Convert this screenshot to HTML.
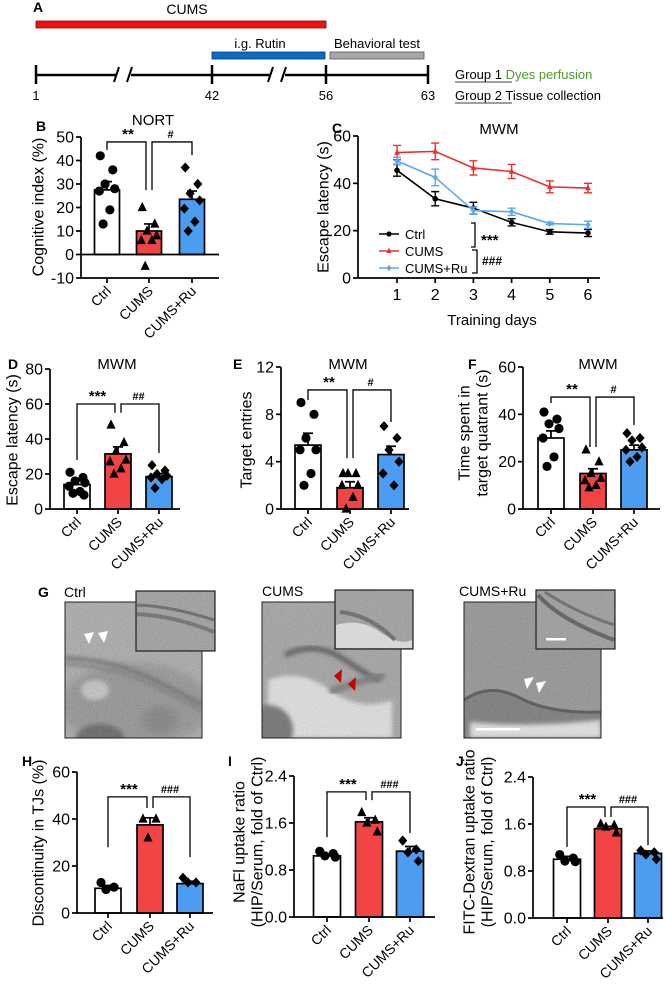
<!DOCTYPE html>
<html><head><meta charset="utf-8"><style>
html,body{margin:0;padding:0;background:#fff;}
svg{display:block;font-family:"Liberation Sans",Arial,sans-serif;}
</style></head><body>
<svg id="fig" width="665" height="991" viewBox="0 0 665 991" xmlns="http://www.w3.org/2000/svg">
<defs>
<filter id="noise" x="0" y="0" width="100%" height="100%"><feTurbulence type="fractalNoise" baseFrequency="0.7" numOctaves="2" seed="3" result="t"/><feColorMatrix in="t" type="matrix" values="0.33 0.33 0.33 0 0  0.33 0.33 0.33 0 0  0.33 0.33 0.33 0 0  0 0 0 0 1"/></filter>
<filter id="blur2"><feGaussianBlur stdDeviation="2"/></filter>
<filter id="blur4"><feGaussianBlur stdDeviation="4"/></filter>
</defs>
<g>
<text x="33" y="12" font-size="14" font-weight="bold">A</text>
<text x="187" y="14" font-size="14" text-anchor="middle">CUMS</text>
<rect x="36" y="21" width="290" height="7" fill="#f50f0f" stroke="#7a1010" stroke-width="0.8"/>
<text x="260" y="48" font-size="13" text-anchor="middle">i.g. Rutin</text>
<rect x="212" y="52" width="113" height="7" fill="#0a6cc4" stroke="#0a3a70" stroke-width="0.8"/>
<text x="377" y="48" font-size="13" text-anchor="middle">Behavioral test</text>
<rect x="330" y="52" width="94" height="7" fill="#a8a8a8" stroke="#555" stroke-width="0.8"/>
<g stroke="#000" stroke-width="2.5">
<line x1="36" y1="75" x2="116" y2="75"/><line x1="131" y1="75" x2="270" y2="75"/><line x1="285" y1="75" x2="428" y2="75"/>
<line x1="36" y1="65" x2="36" y2="84"/><line x1="212" y1="65" x2="212" y2="84"/><line x1="326" y1="65" x2="326" y2="84"/><line x1="428" y1="65" x2="428" y2="84"/>
<line x1="114" y1="82" x2="119" y2="67" stroke-width="2"/><line x1="127" y1="82" x2="132" y2="67" stroke-width="2"/>
<line x1="268" y1="82" x2="273" y2="67" stroke-width="2"/><line x1="281" y1="82" x2="286" y2="67" stroke-width="2"/>
</g>
<g font-size="13" text-anchor="middle">
<text x="36" y="100">1</text><text x="212" y="100">42</text><text x="326" y="100">56</text><text x="428" y="100">63</text>
</g>
<text x="455" y="79" font-size="13"><tspan>Group 1</tspan> <tspan fill="#4e9a2e">Dyes perfusion</tspan></text>
<line x1="455" y1="82" x2="512" y2="82" stroke="#000" stroke-width="0.8"/>
<text x="455" y="100" font-size="13"><tspan>Group 2</tspan> Tissue collection</text>
<line x1="455" y1="103" x2="512" y2="103" stroke="#000" stroke-width="0.8"/>
</g>

<g>
<text x="38" y="597" font-size="14" font-weight="bold">G</text>
<text x="64" y="597" font-size="14">Ctrl</text>
<text x="262" y="596" font-size="14">CUMS</text>
<text x="459" y="596" font-size="14">CUMS+Ru</text>
<g>
<clipPath id="c1"><rect x="65" y="602" width="137" height="136"/></clipPath>
<g clip-path="url(#c1)">
<rect x="65" y="602" width="137" height="136" fill="#a3a3a3"/>
<ellipse cx="135" cy="705" rx="75" ry="42" fill="#868686" filter="url(#blur4)"/>
<ellipse cx="100" cy="738" rx="24" ry="14" fill="#4a4a4a" filter="url(#blur2)"/>
<ellipse cx="95" cy="690" rx="14" ry="10" fill="#c4c4c4" filter="url(#blur2)"/>
<ellipse cx="160" cy="720" rx="18" ry="14" fill="#6e6e6e" filter="url(#blur4)"/>
<path d="M65 658 Q100 660 125 668 T202 705" fill="none" stroke="#505050" stroke-width="4" filter="url(#blur2)"/>
<path d="M65 664 Q100 666 125 674 T202 711" fill="none" stroke="#606060" stroke-width="3" filter="url(#blur2)"/>
<rect x="65" y="602" width="137" height="136" filter="url(#noise)" opacity="0.35"/>
</g>
<rect x="65" y="602" width="137" height="136" fill="none" stroke="#222" stroke-width="1"/>
<polygon points="84,634 94,632 89,644" fill="#fff"/><polygon points="98,633 108,631 104,643" fill="#fff"/>
<rect x="136" y="591" width="79" height="60" fill="#959595" stroke="#222" stroke-width="1.2"/>
<path d="M137 605 Q170 606 214 620" fill="none" stroke="#4a4a4a" stroke-width="3"/>
<path d="M137 614 Q175 616 214 632" fill="none" stroke="#555" stroke-width="4"/>
<rect x="137" y="592" width="77" height="58" filter="url(#noise)" opacity="0.35"/>
</g>
<g>
<clipPath id="c2"><rect x="262" y="602" width="139" height="136"/></clipPath>
<g clip-path="url(#c2)">
<rect x="262" y="602" width="139" height="136" fill="#9c9c9c"/>
<path d="M268 680 Q300 668 330 690 T392 700 L392 738 L268 738 Z" fill="#e6e6e6" filter="url(#blur2)"/>
<ellipse cx="268" cy="730" rx="25" ry="25" fill="#5e5e5e" filter="url(#blur2)"/>
<path d="M285 655 Q315 640 345 660 T380 680" fill="none" stroke="#3a3a3a" stroke-width="5" filter="url(#blur2)"/>
<path d="M330 692 Q355 682 385 675" fill="none" stroke="#666" stroke-width="7" filter="url(#blur2)"/>
<rect x="262" y="602" width="139" height="136" filter="url(#noise)" opacity="0.3"/>
</g>
<rect x="262" y="602" width="139" height="136" fill="none" stroke="#222" stroke-width="1"/>
<polygon points="334,676 342,669 341,683" fill="#c00"/><polygon points="348,684 356,677 355,691" fill="#c00"/>
<rect x="335" y="590" width="78" height="59" fill="#999" stroke="#222" stroke-width="1.2"/>
<path d="M336 625 Q360 618 380 632 T412 640 L412 648 L336 648 Z" fill="#e6e6e6"/>
<path d="M340 612 Q370 615 395 640" fill="none" stroke="#555" stroke-width="4"/>
<rect x="336" y="591" width="76" height="57" filter="url(#noise)" opacity="0.3"/>
</g>
<g>
<clipPath id="c3"><rect x="464" y="602" width="137" height="136"/></clipPath>
<g clip-path="url(#c3)">
<rect x="464" y="602" width="137" height="136" fill="#8a8a8a"/>
<path d="M464 700 Q490 680 520 698 T601 712 L601 738 L464 738 Z" fill="#6a6a6a"/>
<path d="M464 700 Q490 682 520 698 T601 712" fill="none" stroke="#3a3a3a" stroke-width="3"/>
<path d="M470 722 Q530 728 601 720 L601 738 L470 738 Z" fill="#e8e8e8" filter="url(#blur2)"/>
<rect x="464" y="602" width="137" height="136" filter="url(#noise)" opacity="0.3"/>
</g>
<rect x="464" y="602" width="137" height="136" fill="none" stroke="#222" stroke-width="1"/>
<rect x="476" y="728" width="44" height="2.5" fill="#fff"/>
<polygon points="524,679 534,677 527,689" fill="#fff"/><polygon points="536,683 546,681 539,693" fill="#fff"/>
<rect x="536" y="590" width="79" height="59" fill="#959595" stroke="#222" stroke-width="1.2"/>
<path d="M538 595 Q560 620 614 640" fill="none" stroke="#444" stroke-width="4"/>
<path d="M545 592 Q575 612 614 625" fill="none" stroke="#555" stroke-width="3"/>
<rect x="537" y="591" width="77" height="57" filter="url(#noise)" opacity="0.3"/>
<rect x="546" y="638" width="20" height="2.5" fill="#fff"/>
</g>
</g>
</svg>
<script>
// ---------- DATA ----------
const categories = ['Ctrl', 'CUMS', 'CUMS+Ru'];
const nortMeans = [27.5, 10, 23.5];
const nortErr = [3.5, 3, 3.5];
const nortPts = [[42, 36, 30, 28, 27, 19, 13], [20, 13, 10, 8, 6, 6, -5], [37, 30, 26, 23, 19.5, 14, 10]];
const nortTicks = [-10, 0, 10, 20, 30, 40, 50];
const days = [1, 2, 3, 4, 5, 6];
const ctrlLat = [45.5, 33.5, 29.5, 23.5, 19.5, 19];
const ctrlLatErr = [2.5, 3, 2.5, 1.5, 1, 1.5];
const cumsLat = [53, 53.5, 46.5, 45, 38.5, 38];
const cumsLatErr = [3, 3.5, 3, 3, 2.5, 2];
const ruLat = [49.5, 42.5, 28.5, 28, 23, 22.5];
const ruLatErr = [1.5, 3.5, 1.5, 1.5, 0.5, 1.5];
const latTicks = [0, 20, 40, 60];
const escMeans = [14, 31.5, 18.5];
const escErr = [2, 4, 1.8];
const escPts = [[21, 18, 16, 15, 13, 10, 9, 8], [48, 38, 33, 28, 27, 23, 20], [25, 22, 20, 19, 18, 17, 12]];
const escTicks = [0, 20, 40, 60, 80];
const entMeans = [5.4, 1.8, 4.6];
const entErr = [1, 0.5, 0.7];
const entPts = [[9, 8, 6, 5, 5, 3, 2], [3, 3, 3, 2, 2, 1, 0], [7, 6, 5, 4, 3, 2]];
const entTicks = [0, 4, 8, 12];
const timeMeans = [30, 15, 25];
const timeErr = [3, 2, 2];
const timePts = [[41, 38, 36, 34, 30, 22, 18], [25, 20, 15, 13, 12, 10, 9], [32, 30, 29, 26, 25, 22, 20]];
const timeTicks = [0, 20, 40, 60];
const tjMeans = [10.5, 37.5, 12.5];
const tjErr = [1.2, 3, 1];
const tjPts = [[13, 11, 10], [40, 40, 32], [15, 13, 13]];
const tjTicks = [0, 20, 40, 60];
const naflMeans = [1.04, 1.62, 1.12];
const naflErr = [0.03, 0.07, 0.08];
const naflPts = [[1.12, 1.08, 1.04, 1.02], [1.78, 1.65, 1.6, 1.45], [1.3, 1.15, 1.1, 0.95]];
const naflTicks = ['0.0', '0.8', '1.6', '2.4'];
const fitcMeans = [1.0, 1.52, 1.1];
const fitcErr = [0.05, 0.04, 0.04];
const fitcPts = [[1.08, 1.02, 0.97, 0.96], [1.6, 1.58, 1.55, 1.45], [1.15, 1.12, 1.08, 1.0]];
const fitcTicks = ['0.0', '0.8', '1.6', '2.4'];

// ---------- DRAW ----------
const NS = 'http://www.w3.org/2000/svg';
const svg = document.getElementById('fig');
function mk(tag, attrs, parent) {
  const e = document.createElementNS(NS, tag);
  for (const k in attrs) e.setAttribute(k, attrs[k]);
  (parent || svg).appendChild(e);
  return e;
}
const FILLS = ['#ffffff', '#f24444', '#4c9cf2'];
const JIT = [-7, 6, -2, 8, -8, 3, -4, 7];

function marker(g, kind, x, y, s, fill) {
  let m;
  if (kind === 0) m = mk('circle', {cx: x, cy: y, r: s, fill: fill}, g);
  else if (kind === 1) m = mk('polygon', {points: `${x},${y - s - 1} ${x + s},${y + s * 0.8} ${x - s},${y + s * 0.8}`, fill: fill}, g);
  else m = mk('polygon', {points: `${x},${y - s - 0.5} ${x + s},${y} ${x},${y + s + 0.5} ${x - s},${y}`, fill: fill}, g);
  return m;
}

function barPanel(p) {
  const g = mk('g', {});
  
  
  const tv = p.ticks.map(Number);
  const vmin = tv[0], vmax = tv[tv.length - 1];
  const ys = v => p.yBot - (v - vmin) / (vmax - vmin) * (p.yBot - p.yTop);
  p.means.forEach((m, i) => {
    const y0 = ys(Math.max(0, vmin)), y1 = ys(m);
    const bar = mk('rect', {x: p.cx[i] - p.bw / 2, y: Math.min(y0, y1), width: p.bw, height: Math.abs(y0 - y1), fill: FILLS[i], stroke: '#000', 'stroke-width': 1.7}, g);
    
    
    const eb = mk('path', {d: `M${p.cx[i]} ${y1} V${ys(m + p.err[i])} M${p.cx[i] - 5} ${ys(m + p.err[i])} H${p.cx[i] + 5}`, stroke: '#000', 'stroke-width': 1.7, fill: 'none'}, g);
    
    
    p.pts[i].forEach((v, j) => {
      const pt = marker(g, i, p.cx[i] + JIT[j % JIT.length] * p.bw / 26, ys(v), 4.6, '#000');
      
      
    });
  });
  const ax = mk('path', {d: `M${p.ax} ${p.yTop} V${p.yBot} H${p.xEnd}`, stroke: '#000', 'stroke-width': 1.7, fill: 'none'}, g);
  
  
  if (vmin < 0) {
    const zl = mk('line', {x1: p.ax, y1: ys(0), x2: p.xEnd, y2: ys(0), stroke: '#000', 'stroke-width': 1.7}, g);
    
    
  }
  p.ticks.forEach((t) => {
    const y = ys(Number(t));
    mk('line', {x1: p.ax - 5, y1: y, x2: p.ax, y2: y, stroke: '#000', 'stroke-width': 1.7}, g);
    const tl = mk('text', {x: p.ax - 7, y: y + 5.5, 'font-size': 16, 'text-anchor': 'end'}, g);
    tl.textContent = t;
    
    
  });
  categories.forEach((c, i) => {
    mk('line', {x1: p.cx[i], y1: p.yBot, x2: p.cx[i], y2: p.yBot + 5, stroke: '#000', 'stroke-width': 1.7}, g);
    const cl = mk('text', {x: p.cx[i] + 5, y: p.yBot + 14, 'font-size': 14, 'text-anchor': 'end', transform: `rotate(-45 ${p.cx[i] + 5} ${p.yBot + 14})`}, g);
    cl.textContent = c;
    
    
  });
  const s = p.sig, top = ys(s.top);
  const b1 = mk('path', {d: `M${p.cx[0]} ${ys(s.legs[0])} V${top} H${p.cx[1] - 3} V${ys(s.legs[1])}`, stroke: '#000', 'stroke-width': 1.3, fill: 'none'}, g);
  
  
  const b2 = mk('path', {d: `M${p.cx[1] + 3} ${ys(s.legs[1])} V${top} H${p.cx[2]} V${ys(s.legs[2])}`, stroke: '#000', 'stroke-width': 1.3, fill: 'none'}, g);
  
  
  const l1 = mk('text', {x: (p.cx[0] + p.cx[1]) / 2, y: top - 3, 'font-size': 15, 'font-weight': 'bold', 'text-anchor': 'middle'}, g);
  l1.textContent = s.l1;
  
  
  const l2 = mk('text', {x: (p.cx[1] + p.cx[2]) / 2, y: top - 4, 'font-size': 11, 'font-weight': 'bold', 'text-anchor': 'middle'}, g);
  l2.textContent = s.l2;
  
  
  const pl = mk('text', {x: p.lab[0], y: p.lab[1], 'font-size': 14, 'font-weight': 'bold'}, g);
  pl.textContent = p.letter;
  
  
  if (p.title) {
    const ti = mk('text', {x: p.title[1], y: p.title[2], 'font-size': 15, 'text-anchor': 'middle'}, g);
    ti.textContent = p.title[0];
    
    
  }
  p.ylab.forEach((yl) => {
    const t = mk('text', {x: yl[1], y: yl[2], 'font-size': 16, 'text-anchor': 'middle', 'dominant-baseline': 'central', transform: `rotate(-90 ${yl[1]} ${yl[2]})`}, g);
    t.textContent = yl[0];
    
    
  });
}

barPanel({name: 'panel-b-nort', letter: 'B', lab: [36, 131], title: ['NORT', 153, 125], ylab: [['Cognitive index (%)', 39, 207]],
  ax: 81, xEnd: 219, yBot: 278, yTop: 137, cx: [107, 149, 192], bw: 25,
  ticks: nortTicks, means: nortMeans, err: nortErr, pts: nortPts, sig: {top: 47.9, legs: [44.5, 27.4, 42.3], l1: '**', l2: '#'}});
barPanel({name: 'panel-d-escape-latency', letter: 'D', lab: [8, 369], title: ['MWM', 117, 369], ylab: [['Escape latency (s)', 13, 440]],
  ax: 50, xEnd: 180, yBot: 509, yTop: 369, cx: [77, 118, 159], bw: 26,
  ticks: escTicks, means: escMeans, err: escErr, pts: escPts, sig: {top: 60, legs: [28, 55, 32], l1: '***', l2: '##'}});
barPanel({name: 'panel-e-target-entries', letter: 'E', lab: [233, 369], title: ['MWM', 348, 369], ylab: [['Target entries', 247, 440]],
  ax: 281, xEnd: 409, yBot: 509, yTop: 367, cx: [308, 350, 391], bw: 26,
  ticks: entTicks, means: entMeans, err: entErr, pts: entPts, sig: {top: 10.06, legs: [9.2, 4.3, 7.35], l1: '**', l2: '#'}});
barPanel({name: 'panel-f-target-quadrant-time', letter: 'F', lab: [468, 369], title: ['MWM', 598, 369], ylab: [['Time spent in', 465, 433], ['target quatrant (s)', 483, 433]],
  ax: 523, xEnd: 660, yBot: 509, yTop: 367, cx: [551, 593, 634], bw: 26,
  ticks: timeTicks, means: timeMeans, err: timeErr, pts: timePts, sig: {top: 47.3, legs: [44.8, 26.2, 35.5], l1: '**', l2: '#'}});
barPanel({name: 'panel-h-tj-discontinuity', letter: 'H', lab: [22, 766], ylab: [['Discontinuity in TJs (%)', 39, 843]],
  ax: 77, xEnd: 213, yBot: 913, yTop: 772, cx: [108, 150, 190], bw: 26,
  ticks: tjTicks, means: tjMeans, err: tjErr, pts: tjPts, sig: {top: 49.4, legs: [28, 44.7, 23.8], l1: '***', l2: '###'}});
barPanel({name: 'panel-i-nafl-uptake', letter: 'I', lab: [228, 766], ylab: [['NaFl uptake ratio', 240, 842], ['(HIP/Serum, fold of Ctrl)', 258, 842]],
  ax: 294, xEnd: 435, yBot: 917, yTop: 776, cx: [327, 369, 410], bw: 27,
  ticks: naflTicks, means: naflMeans, err: naflErr, pts: naflPts, sig: {top: 2.13, legs: [1.36, 1.99, 1.43], l1: '***', l2: '###'}});
barPanel({name: 'panel-j-fitc-uptake', letter: 'J', lab: [456, 766], ylab: [['FITC-Dextran uptake ratio', 470, 842], ['(HIP/Serum, fold of Ctrl)', 488, 842]],
  ax: 533, xEnd: 663, yBot: 918, yTop: 777, cx: [567, 608, 648], bw: 27,
  ticks: fitcTicks, means: fitcMeans, err: fitcErr, pts: fitcPts, sig: {top: 1.89, legs: [1.21, 1.72, 1.24], l1: '***', l2: '###'}});

(function () {
  const g = mk('g', {});
  
  
  const AX = 358, XEND = 600, YB = 278, YT = 136;
  const xs = d => 397 + (d - 1) * (588 - 397) / 5;
  const ys = v => YB - v / 60 * (YB - YT);
  const series = [
    {name: 'Ctrl', vals: ctrlLat, err: ctrlLatErr, color: '#000', kind: 0},
    {name: 'CUMS', vals: cumsLat, err: cumsLatErr, color: '#e8302f', kind: 1},
    {name: 'CUMS+Ru', vals: ruLat, err: ruLatErr, color: '#5aa8f0', kind: 2}
  ];
  series.forEach((s, si) => {
    const sg = mk('g', {}, g);
    
    
    const line = mk('polyline', {points: days.map((d, i) => xs(d) + ',' + ys(s.vals[i])).join(' '), fill: 'none', stroke: s.color, 'stroke-width': 1.6}, sg);
    
    
    days.forEach((d, i) => {
      const x = xs(d), y1 = ys(s.vals[i] + s.err[i]), y2 = ys(s.vals[i] - s.err[i]);
      const eb = mk('path', {d: `M${x} ${y1} V${y2} M${x - 4} ${y1} H${x + 4} M${x - 4} ${y2} H${x + 4}`, stroke: s.color, 'stroke-width': 1.4, fill: 'none'}, sg);
      
      
      const m = marker(sg, s.kind, x, ys(s.vals[i]), 2.8, s.color);
      
      
    });
    const ly = 234 + si * 17;
    const le = mk('g', {}, g);
    
    
    mk('line', {x1: 379, y1: ly, x2: 399, y2: ly, stroke: s.color, 'stroke-width': 1.5}, le);
    marker(le, s.kind, 389, ly, 2.6, s.color);
    const lt = mk('text', {x: 405, y: ly + 5, 'font-size': 13}, le);
    lt.textContent = s.name;
  });
  const ax = mk('path', {d: `M${AX} ${YT} V${YB} H${XEND}`, stroke: '#000', 'stroke-width': 1.7, fill: 'none'}, g);
  
  
  latTicks.forEach((t) => {
    mk('line', {x1: AX - 5, y1: ys(t), x2: AX, y2: ys(t), stroke: '#000', 'stroke-width': 1.7}, g);
    const tl = mk('text', {x: AX - 7, y: ys(t) + 5.5, 'font-size': 16, 'text-anchor': 'end'}, g);
    tl.textContent = t;
    
    
  });
  days.forEach((d) => {
    mk('line', {x1: xs(d), y1: YB, x2: xs(d), y2: YB + 5, stroke: '#000', 'stroke-width': 1.7}, g);
    const tl = mk('text', {x: xs(d), y: YB + 22, 'font-size': 16, 'text-anchor': 'middle'}, g);
    tl.textContent = d;
    
    
  });
  const xt = mk('text', {x: 492, y: 325, 'font-size': 15, 'text-anchor': 'middle'}, g);
  xt.textContent = 'Training days';
  
  
  const yt = mk('text', {x: 324, y: 207, 'font-size': 16, 'text-anchor': 'middle', 'dominant-baseline': 'central', transform: 'rotate(-90 324 207)'}, g);
  yt.textContent = 'Escape latency (s)';
  
  
  const pl = mk('text', {x: 332, y: 133, 'font-size': 14, 'font-weight': 'bold'}, g);
  pl.textContent = 'C';
  
  
  const ti = mk('text', {x: 499, y: 134, 'font-size': 15, 'text-anchor': 'middle'}, g);
  ti.textContent = 'MWM';
  
  
  const br = mk('path', {d: 'M471 223 H475 V247 H471 M472 250 H477 V273 H472', stroke: '#000', 'stroke-width': 1.3, fill: 'none'}, g);
  
  
  const s1 = mk('text', {x: 481, y: 245, 'font-size': 15, 'font-weight': 'bold'}, g);
  s1.textContent = '***';
  
  
  const s2 = mk('text', {x: 482, y: 265, 'font-size': 12, 'font-weight': 'bold'}, g);
  s2.textContent = '###';
  
  
})();
</script>
</body></html>
